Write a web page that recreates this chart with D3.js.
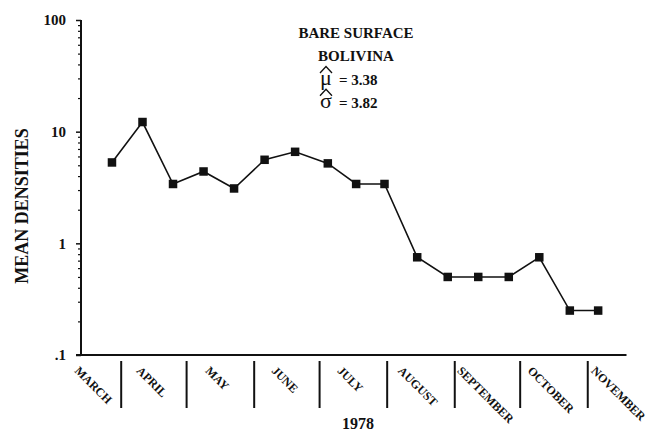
<!DOCTYPE html>
<html>
<head>
<meta charset="utf-8">
<script src="https://cdn.jsdelivr.net/npm/d3@7"></script>
<style>
  html, body { margin: 0; padding: 0; background: #fff; }
  svg { display: block; }
  text { font-family: "Liberation Serif", "Times New Roman", serif; fill: #111; }
</style>
</head>
<body>
<svg id="chart" width="648" height="441"></svg>
<script>
// Bare-surface Bolivina densities, sampled about every two weeks in 1978
const sampleDates = [
  "1978-03-28", "1978-04-11", "1978-04-25", "1978-05-09", "1978-05-23",
  "1978-06-06", "1978-06-20", "1978-07-05", "1978-07-18", "1978-07-31",
  "1978-08-15", "1978-08-29", "1978-09-12", "1978-09-26", "1978-10-10",
  "1978-10-24", "1978-11-06"
];
const densities = [5.3, 12.2, 3.4, 4.4, 3.1, 5.6, 6.6, 5.2, 3.4, 3.4,
                   0.75, 0.5, 0.5, 0.5, 0.75, 0.25, 0.25];

const monthLabels = ["MARCH", "APRIL", "MAY", "JUNE", "JULY", "AUGUST",
                     "SEPTEMBER", "OCTOBER", "NOVEMBER"];
const yTickValues = [0.1, 1, 10, 100];
const yTickLabels = [".1", "1", "10", "100"];

const titleLines = ["BARE SURFACE", "BOLIVINA"];
const statSymbols = ["\u03BC", "\u03C3"];
const statValues = ["3.38", "3.82"];
const xTitle = "1978";
const yTitle = "MEAN DENSITIES";

const svg = d3.select("#chart");
const ink = "#111";

const parse = d3.utcParse("%Y-%m-%d");
const data = sampleDates.map((d, i) => ({ date: parse(d), value: densities[i] }));

// Scales
const x = d3.scaleUtc()
  .domain([Date.UTC(1978, 2, 11, 12), Date.UTC(1978, 10, 19)])
  .range([76, 626.5]);
const y = d3.scaleLog().domain([0.1, 100]).range([355, 20]);
const axisX = 81;

// Y axis: major ticks with labels
const yMajor = svg.append("g")
  .attr("transform", `translate(${axisX},0)`)
  .call(d3.axisLeft(y)
    .tickValues(yTickValues)
    .tickFormat((d, i) => yTickLabels[i])
    .tickSize(5)
    .tickPadding(10));
yMajor.select(".domain").remove();
yMajor.selectAll(".tick line").attr("stroke", ink).attr("stroke-width", 1.5);
yMajor.selectAll(".tick text")
  .attr("font-family", "Liberation Serif, serif")
  .attr("font-weight", "bold")
  .attr("font-size", 15)
  .attr("fill", ink);

// Y axis: minor ticks 2..9 within each decade
const minorValues = [];
[0.1, 1, 10].forEach(base => {
  for (let k = 2; k <= 9; k++) minorValues.push(base * k);
});
const yMinor = svg.append("g")
  .attr("transform", `translate(${axisX},0)`)
  .call(d3.axisLeft(y).tickValues(minorValues).tickFormat("").tickSize(3));
yMinor.select(".domain").remove();
yMinor.selectAll(".tick line").attr("stroke", ink).attr("stroke-width", 1.2);

// Y axis line
svg.append("line")
  .attr("x1", axisX).attr("x2", axisX)
  .attr("y1", y(100)).attr("y2", y(0.1))
  .attr("stroke", ink).attr("stroke-width", 2);

// X axis baseline
svg.append("line")
  .attr("x1", x.range()[0]).attr("x2", x.range()[1])
  .attr("y1", y(0.1)).attr("y2", y(0.1))
  .attr("stroke", ink).attr("stroke-width", 2);

// Month separators below the baseline
const monthStarts = d3.utcMonths(Date.UTC(1978, 3, 1), Date.UTC(1978, 10, 2));
const sep = svg.append("g")
  .attr("transform", `translate(0,${y(0.1) + 6})`)
  .call(d3.axisBottom(x).tickValues(monthStarts).tickFormat("").tickSize(47));
sep.select(".domain").remove();
sep.selectAll(".tick line").attr("stroke", ink).attr("stroke-width", 2);

// Month names, rotated 45 degrees, centred mid-month (kept inside the axis start)
const labelTop = y(0.1) + 11;
const monthG = svg.append("g").attr("opacity", 0.999);
monthLabels.forEach((name, i) => {
  const t = monthG.append("text")
    .attr("font-weight", "bold")
    .attr("font-size", 12)
    .attr("fill", ink)
    .attr("text-anchor", "middle")
    .text(name);
  const L = t.node().getComputedTextLength();
  const half = L * 0.3536 + 3;
  const mid = Math.max(x(Date.UTC(1978, 2 + i, 14)), x.range()[0] + half - 5);
  const cy = labelTop + 5.5 + L * 0.3536;
  t.attr("transform", `translate(${mid},${cy}) rotate(45)`);
});

// Data line and square markers
svg.append("path")
  .datum(data)
  .attr("fill", "none")
  .attr("stroke", ink)
  .attr("stroke-width", 1.6)
  .attr("d", d3.line().x(d => x(d.date)).y(d => y(d.value)));

const ms = 8.5;
svg.append("g").selectAll("rect")
  .data(data)
  .join("rect")
  .attr("x", d => x(d.date) - ms / 2)
  .attr("y", d => y(d.value) - ms / 2)
  .attr("width", ms).attr("height", ms)
  .attr("fill", ink);

// Title block
const titleX = 356;
svg.append("g").selectAll("text")
  .data(titleLines)
  .join("text")
  .attr("x", titleX)
  .attr("y", (d, i) => 37.5 + i * 23)
  .attr("text-anchor", "middle")
  .attr("font-weight", "bold")
  .attr("font-size", 15)
  .text(d => d);

// Estimates, each symbol capped with a wide hat
const statX = 320;
statSymbols.forEach((sym, i) => {
  const base = 85 + i * 22.7;
  svg.append("text")
    .attr("x", statX).attr("y", base)
    .attr("font-size", 22)
    .text(sym);
  const w = 12;
  svg.append("path")
    .attr("d", `M${statX},${base - 12} L${statX + w / 2},${base - 18.5} L${statX + w},${base - 12}`)
    .attr("fill", "none").attr("stroke", ink).attr("stroke-width", 1.3);
  svg.append("text")
    .attr("x", statX + 19).attr("y", base)
    .attr("font-weight", "bold")
    .attr("font-size", 15)
    .text("= " + statValues[i]);
});

// Axis titles
svg.append("text")
  .attr("x", 358).attr("y", 429)
  .attr("text-anchor", "middle")
  .attr("font-weight", "bold")
  .attr("font-size", 16)
  .text(xTitle);

svg.append("text")
  .attr("transform", `translate(28,206) rotate(-90)`)
  .attr("text-anchor", "middle")
  .attr("font-weight", "bold")
  .attr("font-size", 18)
  .text(yTitle);
</script>
</body>
</html>
